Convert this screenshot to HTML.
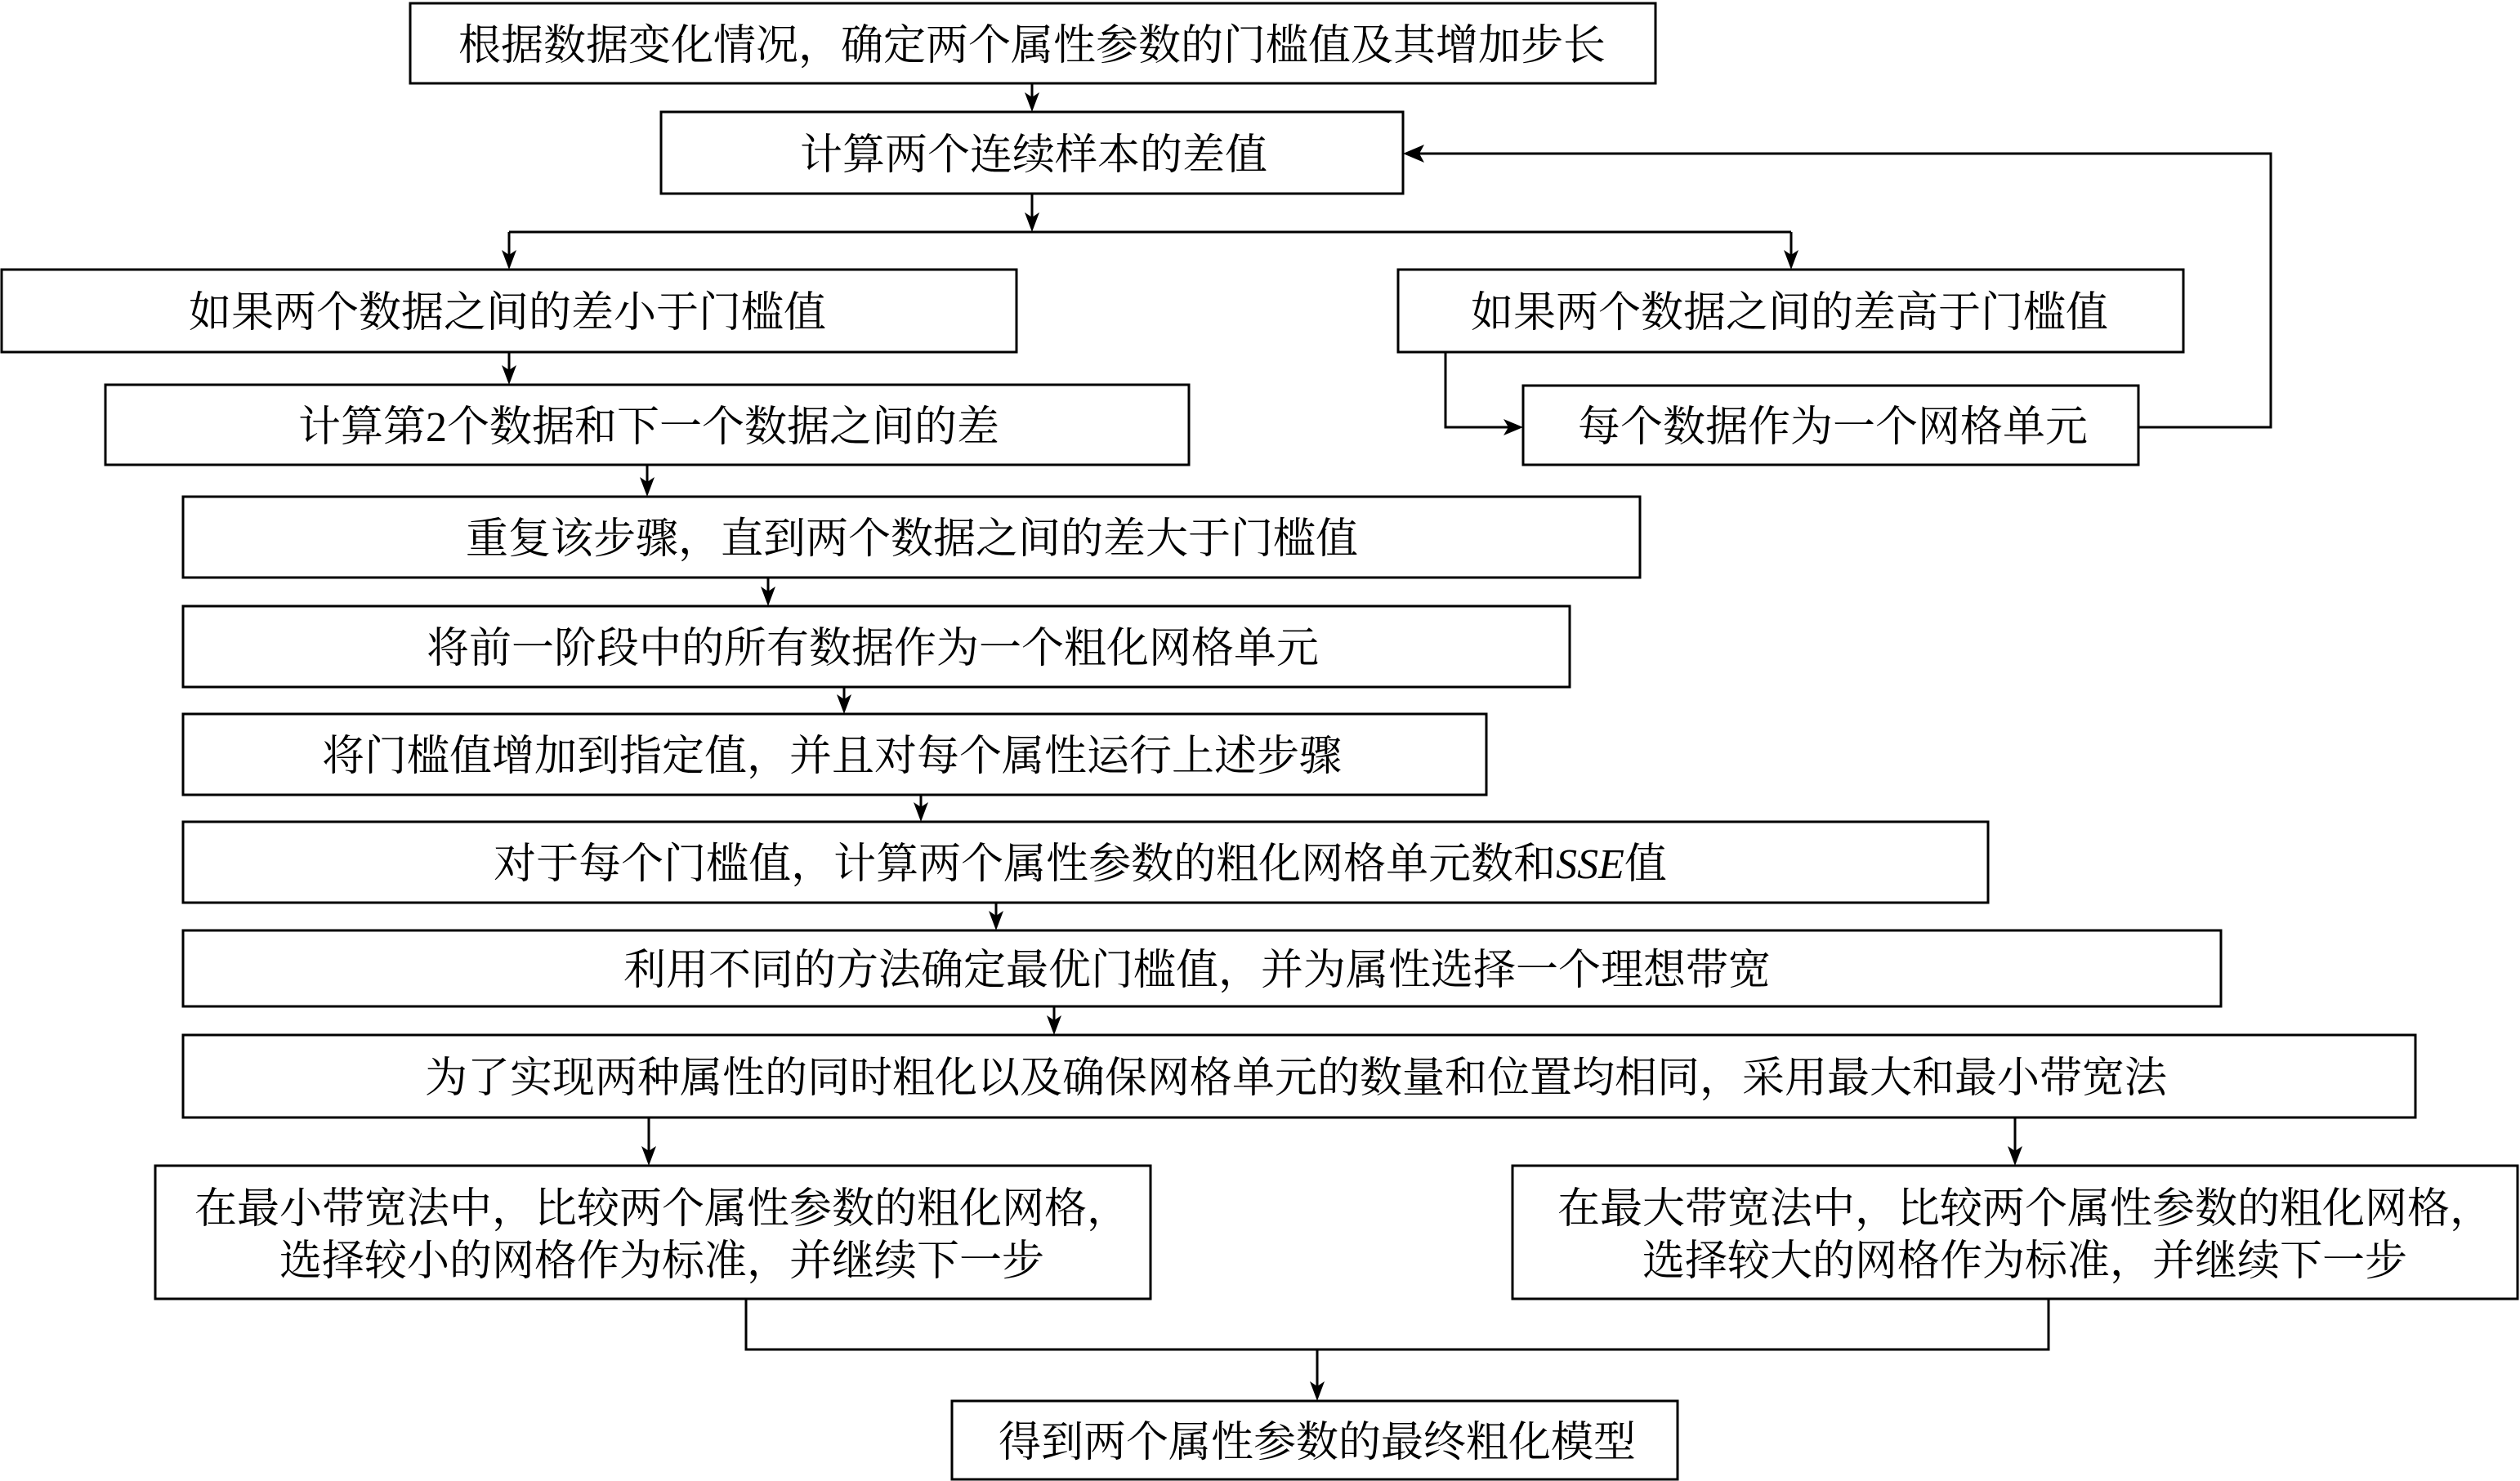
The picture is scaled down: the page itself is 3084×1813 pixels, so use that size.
<!DOCTYPE html>
<html>
<head>
<meta charset="utf-8">
<style>
html,body{margin:0;padding:0;background:#fff;}
svg{display:block;}
text{font-family:"Liberation Serif","Noto Serif CJK SC","Noto Sans CJK SC",serif;font-size:52px;fill:#000;text-anchor:middle;}
</style>
</head>
<body>
<svg width="3084" height="1813" viewBox="0 0 3084 1813" xmlns="http://www.w3.org/2000/svg">
<g fill="#fff" stroke="#000" stroke-width="3">
<rect x="502" y="4" width="1524" height="98"/>
<rect x="809" y="137" width="908" height="100"/>
<rect x="2" y="330" width="1242" height="101"/>
<rect x="1711" y="330" width="961" height="101"/>
<rect x="129" y="471" width="1326" height="98"/>
<rect x="1864" y="472" width="753" height="97"/>
<rect x="224" y="608" width="1783" height="99"/>
<rect x="224" y="742" width="1697" height="99"/>
<rect x="224" y="874" width="1595" height="99"/>
<rect x="224" y="1006" width="2209" height="99"/>
<rect x="224" y="1139" width="2494" height="93"/>
<rect x="224" y="1267" width="2732" height="101"/>
<rect x="190" y="1427" width="1218" height="163"/>
<rect x="1851" y="1427" width="1230" height="163"/>
<rect x="1165" y="1715" width="888" height="96"/>
</g>
<g fill="none" stroke="#000" stroke-width="3">
<line x1="1263" y1="102" x2="1263" y2="125"/>
<line x1="1263" y1="237" x2="1263" y2="272"/>
<line x1="623" y1="284" x2="2192" y2="284"/>
<line x1="623" y1="284" x2="623" y2="318"/>
<line x1="2192" y1="284" x2="2192" y2="318"/>
<line x1="623" y1="431" x2="623" y2="459"/>
<line x1="792" y1="569" x2="792" y2="596"/>
<line x1="940" y1="707" x2="940" y2="730"/>
<line x1="1033" y1="841" x2="1033" y2="862"/>
<line x1="1127" y1="973" x2="1127" y2="994"/>
<line x1="1219" y1="1105" x2="1219" y2="1127"/>
<line x1="1290" y1="1232" x2="1290" y2="1255"/>
<line x1="794" y1="1368" x2="794" y2="1415"/>
<line x1="2466" y1="1368" x2="2466" y2="1415"/>
<polyline points="913,1590 913,1652 2507,1652 2507,1590"/>
<line x1="1612" y1="1652" x2="1612" y2="1703"/>
<polyline points="1769,431 1769,523 1850,523"/>
<polyline points="2617,523 2779,523 2779,188 1730,188"/>
</g>
<g fill="#000" stroke="none">
<polygon points="1263,137 1254,113 1263,119 1272,113"/>
<polygon points="1263,284 1254,260 1263,266 1272,260"/>
<polygon points="623,330 614,306 623,312 632,306"/>
<polygon points="2192,330 2183,306 2192,312 2201,306"/>
<polygon points="623,471 614,447 623,453 632,447"/>
<polygon points="792,608 783,584 792,590 801,584"/>
<polygon points="940,742 931,718 940,724 949,718"/>
<polygon points="1033,874 1024,850 1033,856 1042,850"/>
<polygon points="1127,1006 1118,982 1127,988 1136,982"/>
<polygon points="1219,1139 1210,1115 1219,1121 1228,1115"/>
<polygon points="1290,1267 1281,1243 1290,1249 1299,1243"/>
<polygon points="794,1427 785,1403 794,1409 803,1403"/>
<polygon points="2466,1427 2457,1403 2466,1409 2475,1403"/>
<polygon points="1612,1715 1603,1691 1612,1697 1621,1691"/>
<polygon points="1864,523 1840,513 1846,523 1840,533"/>
<polygon points="1717,188 1743,177 1737,188 1743,199"/>
</g>
<g>
<text x="1263" y="73">根据数据变化情况，确定两个属性参数的门槛值及其增加步长</text>
<text x="1265" y="207">计算两个连续样本的差值</text>
<text x="621" y="400">如果两个数据之间的差小于门槛值</text>
<text x="2190" y="400">如果两个数据之间的差高于门槛值</text>
<text x="794" y="540">计算第2个数据和下一个数据之间的差</text>
<text x="2243" y="540">每个数据作为一个网格单元</text>
<text x="1116" y="677">重复该步骤，直到两个数据之间的差大于门槛值</text>
<text x="1068" y="811">将前一阶段中的所有数据作为一个粗化网格单元</text>
<text x="1018" y="943">将门槛值增加到指定值，并且对每个属性运行上述步骤</text>
<text x="1322" y="1075">对于每个门槛值，计算两个属性参数的粗化网格单元数和<tspan font-style="italic">SSE</tspan>值</text>
<text x="1465" y="1205">利用不同的方法确定最优门槛值，并为属性选择一个理想带宽</text>
<text x="1586" y="1337">为了实现两种属性的同时粗化以及确保网格单元的数量和位置均相同，采用最大和最小带宽法</text>
<text x="810" y="1497">在最小带宽法中，比较两个属性参数的粗化网格，</text>
<text x="810" y="1561">选择较小的网格作为标准，并继续下一步</text>
<text x="2478" y="1497">在最大带宽法中，比较两个属性参数的粗化网格，</text>
<text x="2478" y="1561">选择较大的网格作为标准，并继续下一步</text>
<text x="1612" y="1783">得到两个属性参数的最终粗化模型</text>
</g>
</svg>
</body>
</html>
